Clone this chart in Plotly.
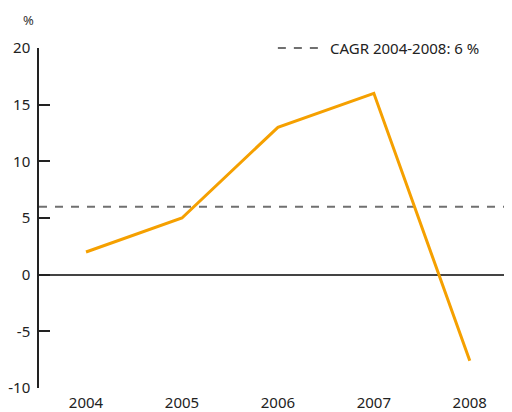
import plotly.graph_objects as go

# data
years = [2004, 2005, 2006, 2007, 2008]
growth = [2, 5, 13, 16, -7.6]
cagr = 6
cagr_label = "CAGR 2004-2008: 6 %"
y_ticks = [-10, -5, 0, 5, 10, 15, 20]

font = "Noto Sans"
dash_style = dict(color="#707070", width=2, dash="8px,8px")

fig = go.Figure()

fig.add_trace(go.Scatter(x=years, y=growth, mode="lines", showlegend=False,
                         line=dict(color="#F5A000", width=3)))

# CAGR reference line across the plot
fig.add_shape(type="line", xref="paper", yref="y", x0=0, x1=0.995, y0=cagr, y1=cagr,
              line=dash_style, layer="below")

# legend drawn by hand: dash sample + label
fig.add_shape(type="line", xref="paper", yref="paper", x0=0.505, x1=0.590, y0=1.0, y1=1.0,
              line=dash_style)
fig.add_annotation(text=cagr_label, xref="paper", yref="paper", x=0.61, y=1.0,
                   xanchor="left", yanchor="middle", showarrow=False,
                   font=dict(family=font, size=15, color="#222"))

fig.add_annotation(text="%", xref="paper", yref="paper", x=-0.023, y=1.082,
                   xanchor="center", yanchor="middle", showarrow=False,
                   font=dict(family=font, size=13, color="#333"))

# the page body adds an 8px margin, so the figure is made smaller to compensate
fig.update_layout(
    width=504, height=404,
    margin=dict(l=31, r=0, t=40, b=24),
    plot_bgcolor="white", paper_bgcolor="white",
    font=dict(family=font, size=15, color="#222"),
    showlegend=False,
    xaxis=dict(range=[2003.51, 2008.44], tickvals=years, showline=False,
               showgrid=False, zeroline=False, ticks="", automargin=False,
               ticklabelstandoff=4),
    yaxis=dict(range=[-10, 20], tickvals=y_ticks, ticktext=[str(v) for v in y_ticks],
               showline=True, linecolor="#222",
               linewidth=1.5, ticks="inside", ticklen=11, tickwidth=1.5,
               tickcolor="#222", showgrid=False, zeroline=True,
               zerolinecolor="#444", zerolinewidth=1.5, ticklabelstandoff=4,
               automargin=False),
)

fig.write_html("out.html")
